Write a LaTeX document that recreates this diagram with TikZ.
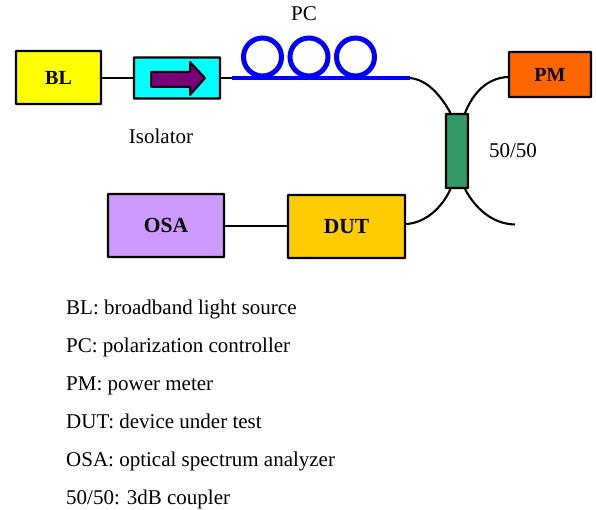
\documentclass[tikz,border=0pt]{standalone}
\usepackage{fontspec}
\setmainfont{Liberation Serif}
\tikzset{
  x=1pt,y=-1pt,
  devbox/.style={draw=black,line width=2.4pt,rounded corners=0.6pt,inner sep=0pt},
  boxtext/.style={font=\bfseries\fontsize{#1}{24}\selectfont},
  fibre/.style={draw=black,line width=2.1pt},
  bluefibre/.style={draw=fibreblue,line width=4pt},
  loopcoil/.style={draw=fibreblue,line width=5pt,circle,minimum size=38pt,inner sep=0pt,outer sep=0pt},
  lab/.style={font=\fontsize{21}{24}\selectfont,inner sep=0pt},
  legend/.style={font=\fontsize{21}{24}\selectfont,inner sep=0pt,anchor=base west}
}
\definecolor{yellowbox}{RGB}{255,255,0}
\definecolor{fibreblue}{RGB}{0,0,255}
\definecolor{cyanbox}{RGB}{0,255,255}
\definecolor{arrowpurple}{RGB}{120,0,120}
\definecolor{oscol}{RGB}{204,153,255}
\definecolor{dutcol}{RGB}{255,204,0}
\definecolor{pmcol}{RGB}{255,102,0}
\definecolor{cplcol}{RGB}{51,153,102}
\begin{document}
\begin{tikzpicture}
\useasboundingbox (0,0) rectangle (596,510);
\node[devbox,boxtext=20,fill=yellowbox,minimum width=85pt,minimum height=53pt] (bl) at (58.5,77.5) {BL};
\node[devbox,fill=cyanbox,minimum width=86pt,minimum height=41pt] (iso) at (177,78) {};
\node[devbox,boxtext=20,fill=pmcol,minimum width=82pt,minimum height=45pt] (pm) at (550,74.5) {PM};
\node[devbox,fill=cplcol,minimum width=22pt,minimum height=74pt] (cpl) at (457,151) {};
\node[devbox,boxtext=21.5,fill=oscol,minimum width=116pt,minimum height=63pt] (osa) at (166,225.5) {OSA};
\node[devbox,boxtext=21.5,fill=dutcol,minimum width=117pt,minimum height=63pt] (dut) at (346.5,226.5) {DUT};
\coordinate (fs) at (232,78);
\coordinate (fe) at (410,78);
\coordinate (free) at (515,224.5);
\coordinate (cplTL) at (450.5,113);
\coordinate (cplTR) at (465,113);
\coordinate (cplBL) at (450.5,189);
\coordinate (cplBR) at (465,189);
\draw[fibre] (bl.east |- iso.west) -- (iso.west);
\draw[fibre] (iso.east) -- (fs);
\node[loopcoil] (l1) at (262.5,57) {};
\node[loopcoil] (l2) at (309,57) {};
\node[loopcoil] (l3) at (355.5,57) {};
\draw[bluefibre] (fs) -- (fe);
\draw[fill=arrowpurple,draw=black,line width=2pt,line join=round]
  (151,72) -- (190,72) -- (190,62) -- (205,78) -- (190,95) -- (190,87) -- (151,87) -- cycle;
\draw[fibre] (fe) .. controls (428,80) and (441,96) .. (cplTL);
\draw[fibre] (pm.west |- 0,77) .. controls (487,78) and (473,93) .. (cplTR);
\draw[fibre] (dut.east |- 0,224) .. controls (425,223) and (442,208) .. (cplBL);
\draw[fibre] (cplBR) .. controls (475,208) and (492,224) .. (free);
\draw[fibre] (osa.east |- 0,226) -- (dut.west |- 0,226);
\node[lab] (tpc) at (304,14) {PC};
\node[lab] (tiso) at (161,136) {Isolator};
\node[lab] (t50) at (513,151) {50/50};
\node[legend] (a) at (66,314) {BL: broadband light source};
\node[legend] (b) at (66,352) {PC: polarization controller};
\node[legend] (c) at (66,390) {PM: power meter};
\node[legend] (d) at (66,428) {DUT: device under test};
\node[legend] (e) at (66,466) {OSA: optical spectrum analyzer};
\node[legend] (f) at (66,504) {50/50: 3dB coupler};
\end{tikzpicture}
\end{document}
